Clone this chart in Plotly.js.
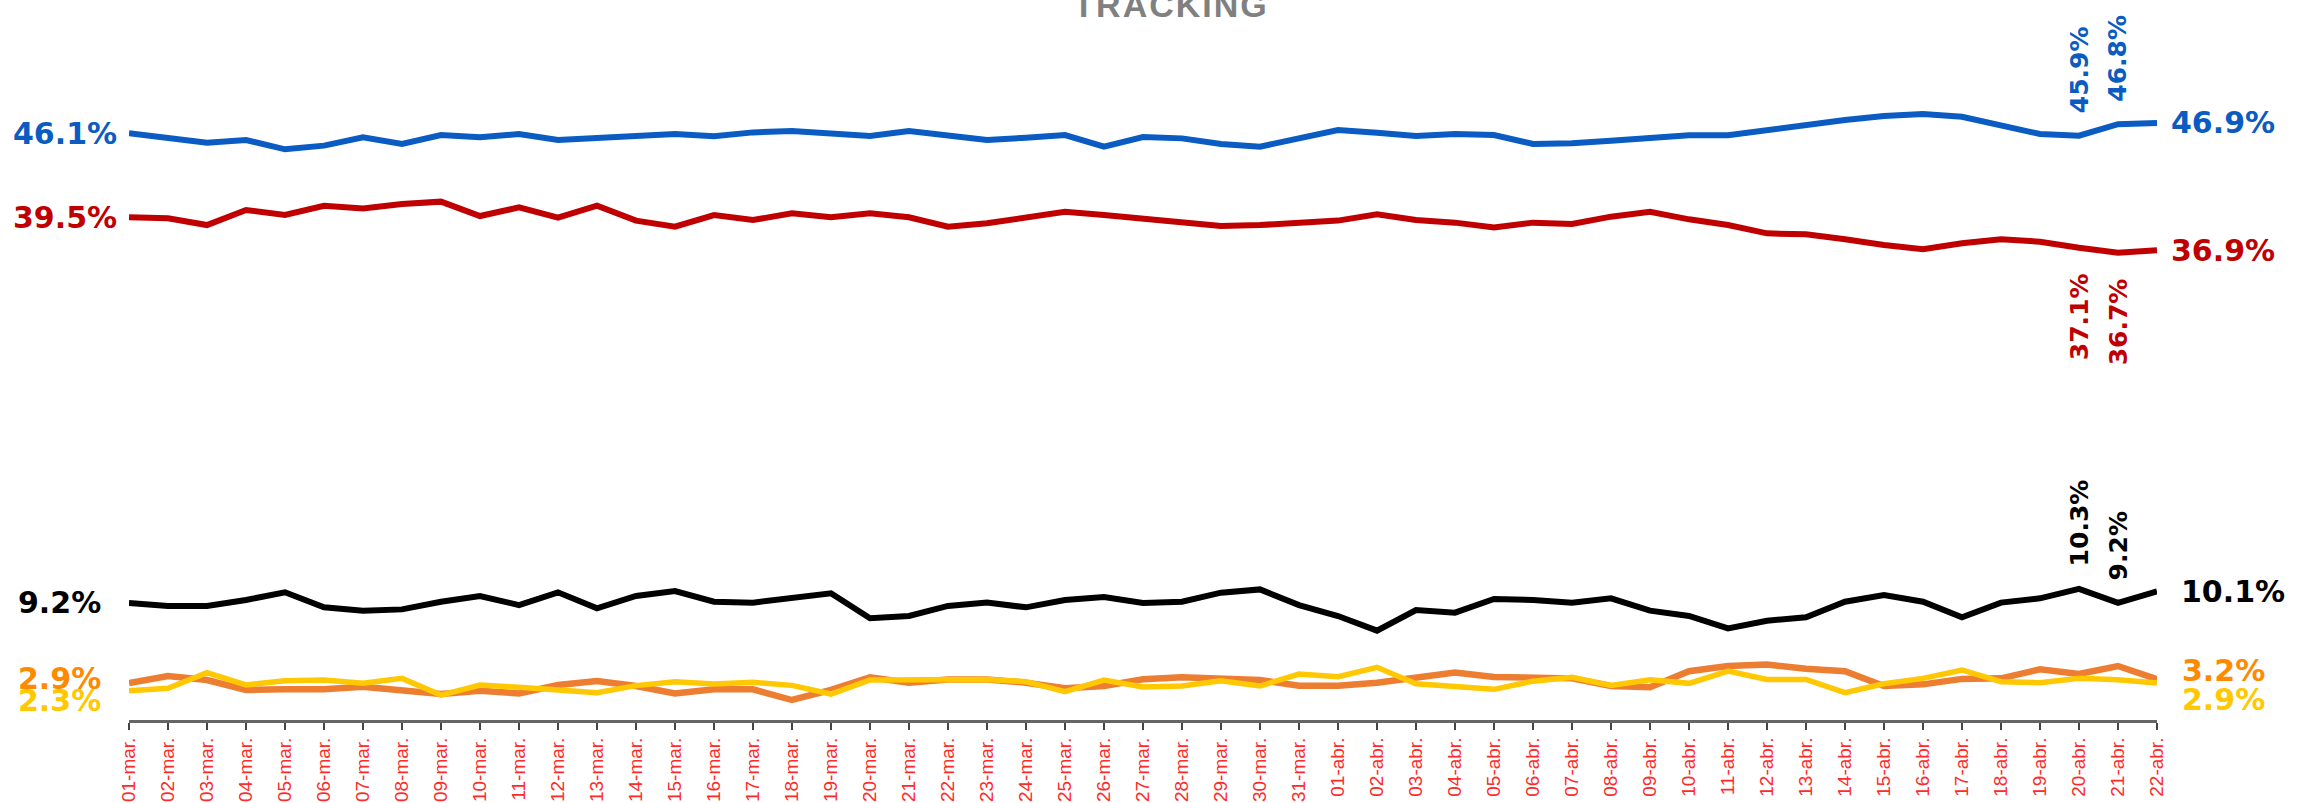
<!DOCTYPE html>
<html>
<head>
<meta charset="utf-8">
<script src="https://cdn.plot.ly/plotly-3.0.1.min.js"></script>
<style>
html,body{margin:0;padding:0;background:#fff;}
#chart{width:2298px;height:803px;}
.gtitle{letter-spacing:2px;}
</style>
</head>
<body>
<div id="chart"></div>
<script>
const categories = ["01-mar.","02-mar.","03-mar.","04-mar.","05-mar.","06-mar.","07-mar.","08-mar.","09-mar.","10-mar.",
"11-mar.","12-mar.","13-mar.","14-mar.","15-mar.","16-mar.","17-mar.","18-mar.","19-mar.","20-mar.",
"21-mar.","22-mar.","23-mar.","24-mar.","25-mar.","26-mar.","27-mar.","28-mar.","29-mar.","30-mar.","31-mar.",
"01-abr.","02-abr.","03-abr.","04-abr.","05-abr.","06-abr.","07-abr.","08-abr.","09-abr.","10-abr.",
"11-abr.","12-abr.","13-abr.","14-abr.","15-abr.","16-abr.","17-abr.","18-abr.","19-abr.","20-abr.",
"21-abr.","22-abr."];

const blueSeries = [46.1,45.69,45.35,45.56,44.83,45.12,45.77,45.25,45.95,45.77,
46.03,45.56,45.74,45.95,46.03,45.85,46.16,46.27,46.09,45.88,
46.27,45.95,45.56,45.74,45.95,45.04,45.8,45.69,45.25,45.04,
45.69,46.35,46.14,45.88,46.03,45.95,45.25,45.3,45.51,45.69,
45.93,45.93,46.35,46.69,47.13,47.45,47.6,47.39,46.74,46.03,
45.9,46.8,46.9];

const redSeries = [39.5,39.41,38.88,40.06,39.67,40.4,40.19,40.53,40.72,39.59,
40.27,39.46,40.4,39.23,38.75,39.67,39.28,39.8,39.49,39.8,
39.49,38.75,39.02,39.49,39.93,39.67,39.36,39.1,38.81,38.88,
39.09,39.23,39.72,39.28,39.07,38.7,39.07,38.96,39.54,39.93,
39.33,38.88,38.23,38.15,37.76,37.31,36.98,37.45,37.76,37.57,
37.1,36.7,36.9];

const blackSeries = [9.2,8.96,8.96,9.43,10.03,8.85,8.59,8.69,9.29,9.74,
9.03,10.03,8.77,9.74,10.13,9.29,9.22,9.64,9.95,7.99,
8.17,8.96,9.22,8.85,9.43,9.66,9.2,9.29,10.0,10.26,
9.03,8.17,7.02,8.64,8.43,9.51,9.43,9.22,9.56,8.59,
8.17,7.2,7.8,8.07,9.29,9.82,9.29,8.07,9.22,9.56,
10.3,9.2,10.1];

const orangeSeries = [2.9,3.46,3.14,2.36,2.41,2.41,2.62,2.3,2.04,2.3,
2.09,2.75,3.06,2.67,2.09,2.41,2.41,1.57,2.36,3.35,
2.93,3.19,3.19,2.93,2.49,2.67,3.2,3.35,3.2,3.14,
2.7,2.7,2.93,3.38,3.72,3.38,3.27,3.27,2.67,2.57,
3.83,4.24,4.36,4.02,3.83,2.67,2.8,3.23,3.27,3.98,
3.61,4.24,3.2];

const yellowSeries = [2.3,2.49,3.72,2.75,3.09,3.14,2.88,3.27,1.96,2.75,
2.57,2.36,2.15,2.7,3.01,2.83,2.96,2.72,2.04,3.14,
3.19,3.19,3.19,3.01,2.23,3.14,2.6,2.68,3.09,2.67,
3.61,3.4,4.14,2.85,2.68,2.41,3.05,3.35,2.72,3.16,
2.88,3.84,3.19,3.19,2.15,2.85,3.27,3.93,3.01,2.93,
3.27,3.16,2.9];

const colors = {blue:'#0a5bc2', red:'#c00000', black:'#000000', orange:'#ed7d31', yellow:'#ffc800',
  orangeText:'#ff8a00', yellowText:'#ffc800'};

const LBL = 'DejaVu Sans, Liberation Sans, sans-serif';

function line(y, color, w){
  return {x: categories, y: y, type:'scatter', mode:'lines',
    line:{color:color, width:w, shape:'linear'}, hoverinfo:'skip'};
}

const traces = [
  line(blueSeries, colors.blue, 6),
  line(redSeries, colors.red, 6),
  line(blackSeries, colors.black, 6),
  line(orangeSeries, colors.orange, 6.5),
  line(yellowSeries, colors.yellow, 5.5)
];

const n = categories.length;
const first = categories[0], last = categories[n-1];
const i50 = categories[n-3], i51 = categories[n-2];

function pct(v){ return v.toFixed(1) + '%'; }

const annotations = [];
function side(xc, y, text, color, anchor, shift, yshift, xref){
  annotations.push({x:xc, y:y, xref:xref||'x', yref:'y', text:'<b>'+text+'</b>', showarrow:false,
    xanchor:anchor, yanchor:'middle', xshift:shift, yshift:yshift||0,
    font:{family:LBL, size:30, color:color}});
}
// left labels
side(0, blueSeries[0], pct(blueSeries[0]), colors.blue, 'left', -118, 0, 'paper');
side(0, redSeries[0], pct(redSeries[0]), colors.red, 'left', -118, 0, 'paper');
side(first, blackSeries[0], pct(blackSeries[0]), colors.black, 'right', -26);
side(first, orangeSeries[0], pct(orangeSeries[0]), colors.orangeText, 'right', -26, 5);
side(first, yellowSeries[0], pct(yellowSeries[0]), colors.yellowText, 'right', -26, -10);
// right labels
side(last, blueSeries[n-1], pct(blueSeries[n-1]), colors.blue, 'left', 12);
side(last, redSeries[n-1], pct(redSeries[n-1]), colors.red, 'left', 12);
side(last, blackSeries[n-1], pct(blackSeries[n-1]), colors.black, 'left', 22);
side(last, orangeSeries[n-1], pct(orangeSeries[n-1]), colors.orangeText, 'left', 23, 9);
side(last, yellowSeries[n-1], pct(yellowSeries[n-1]), colors.yellowText, 'left', 23, -16);

// rotated labels at 20-abr and 21-abr
function rot(xc, y, color, above){
  annotations.push({x:xc, y:y, xref:'x', yref:'y', text:'<b>'+pct(y)+'</b>', showarrow:false,
    textangle:-90, xanchor:'center', yanchor: above ? 'bottom' : 'top', yshift: above ? 20 : -24,
    font:{family:LBL, size:25, color:color}});
}
rot(i50, blueSeries[n-3], colors.blue, true);
rot(i51, blueSeries[n-2], colors.blue, true);
rot(i50, redSeries[n-3], colors.red, false);
rot(i51, redSeries[n-2], colors.red, false);
rot(i50, blackSeries[n-3], colors.black, true);
rot(i51, blackSeries[n-2], colors.black, true);

// brackets grouping the two small series labels
const shapes = [
  {type:'path', xref:'x', xsizemode:'pixel', xanchor:0, yref:'y', ysizemode:'pixel',
   yanchor:(orangeSeries[0]+yellowSeries[0])/2,
   path:'M -17 13 L -10 13 L -10 -12 L -17 -12', line:{color:'#9a9a9a', width:2.5}},
  {type:'path', xref:'x', xsizemode:'pixel', xanchor:n-1, yref:'y', ysizemode:'pixel',
   yanchor:(orangeSeries[n-1]+yellowSeries[n-1])/2,
   path:'M 17 15 L 9 15 L 9 -16 L 17 -16', line:{color:'#9a9a9a', width:2.5}}
];

const layout = {
  width:2298, height:803,
  margin:{l:129, r:141, t:0, b:83, pad:0},
  paper_bgcolor:'#ffffff', plot_bgcolor:'#ffffff',
  showlegend:false,
  title:{text:'<b>TRACKING</b>', x:0.5096, xanchor:'center', xref:'container',
    y:0.994, yanchor:'middle', yref:'container',
    font:{family:'Liberation Sans, Arial, sans-serif', size:34, color:'#808080'}},
  xaxis:{type:'category', range:[0, n-1], showgrid:false, zeroline:false,
    showline:true, linecolor:'#666666', linewidth:3,
    ticks:'outside', ticklen:7, tickwidth:2, tickcolor:'#444444',
    tickangle:-90, tickfont:{family:'Liberation Sans, Arial, sans-serif', size:19, color:'#ff2a2a'},
    fixedrange:true},
  yaxis:{range:[0, 56.56], visible:false, showgrid:false, zeroline:false, fixedrange:true},
  annotations:annotations,
  shapes:shapes
};

Plotly.newPlot('chart', traces, layout, {displayModeBar:false, staticPlot:true});
</script>
</body>
</html>
